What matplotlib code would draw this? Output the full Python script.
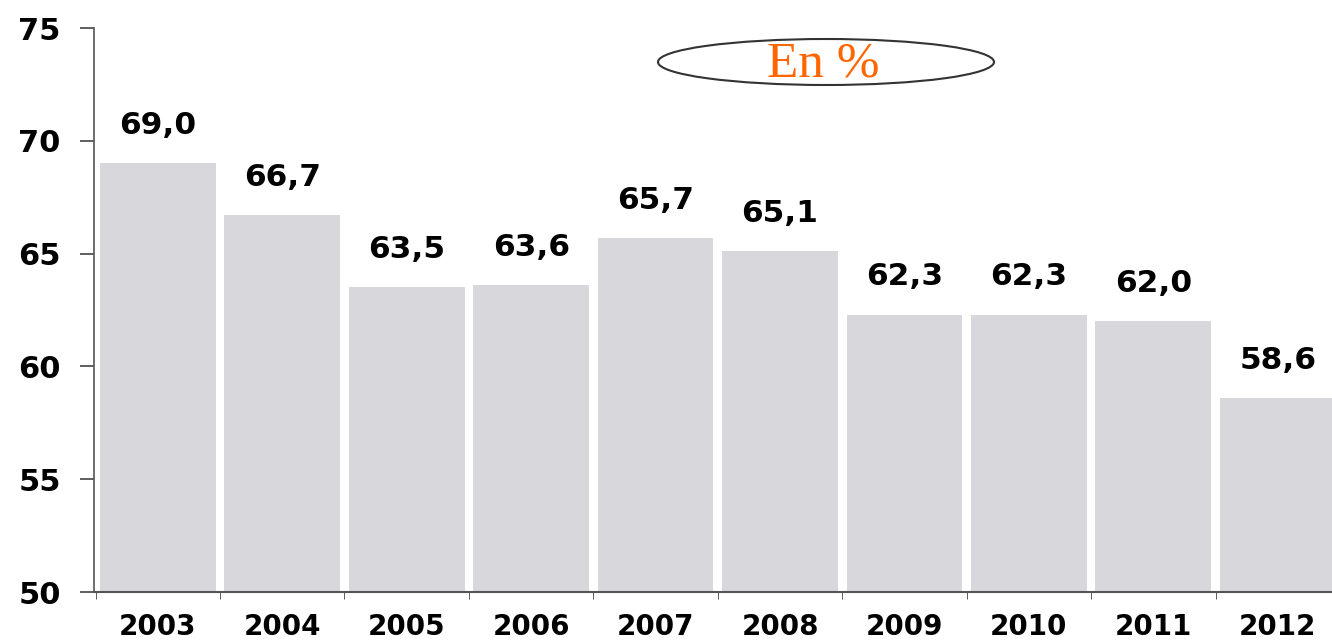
import numpy as np
import matplotlib.pyplot as plt
from matplotlib.patches import Ellipse

years = ['2003', '2004', '2005', '2006', '2007', '2008', '2009', '2010', '2011', '2012']
values = [69.0, 66.7, 63.5, 63.6, 65.7, 65.1, 62.3, 62.3, 62.0, 58.6]

fig = plt.figure(figsize=(13.32, 6.42), dpi=100)
ax = fig.add_axes([94 / 1332, 50 / 642, 1246 / 1332, 564 / 642])

x = np.arange(len(years))
bars = ax.bar(x, values, width=0.93, color='#d8d8dc', edgecolor='none', zorder=2)

for b, v in zip(bars, values):
    ax.annotate(f'{v:.1f}'.replace('.', ','), (b.get_x() + b.get_width() / 2, v),
                xytext=(0, 21), textcoords='offset points', ha='center', va='baseline',
                fontsize=22.5, fontweight='bold', family='DejaVu Sans')

ax.set_ylim(50, 75)
ax.set_yticks([50, 55, 60, 65, 70, 75])
ax.set_xlim(-0.513, 9.49)

# labels centred under bars, small ticks on the category boundaries
ax.set_xticks(x)
ax.set_xticklabels(years)
ax.set_xticks(np.arange(len(years) + 1) - 0.5, minor=True)
ax.tick_params(axis='x', which='major', length=0, pad=15)
ax.tick_params(axis='x', which='minor', length=5, direction='out', color='#444444')
ax.tick_params(axis='y', length=10, width=1.2, color='#444444', pad=14)

for lab in ax.get_xticklabels():
    lab.set_fontsize(20)
    lab.set_fontweight('bold')
    lab.set_family('DejaVu Sans')
for lab in ax.get_yticklabels():
    lab.set_fontsize(22)
    lab.set_fontweight('bold')
    lab.set_family('DejaVu Sans')

ax.spines['top'].set_visible(False)
ax.spines['right'].set_visible(False)
ax.spines['left'].set_color('#555555')
ax.spines['bottom'].set_color('#555555')
ax.spines['left'].set_linewidth(1.2)
ax.spines['bottom'].set_linewidth(1.5)

# "En %" box
ell = Ellipse((826 / 1332, 1 - 62 / 642), 336 / 1332, 46 / 642, transform=fig.transFigure,
              facecolor='white', edgecolor='#333333', linewidth=1.5, zorder=5)
fig.patches.append(ell)
fig.text(823 / 1332, 1 - 64 / 642, 'En %', ha='center', va='center', color='#ff6600',
         fontsize=37, family='Liberation Serif', zorder=6)

fig.savefig('out.png', dpi=100)
